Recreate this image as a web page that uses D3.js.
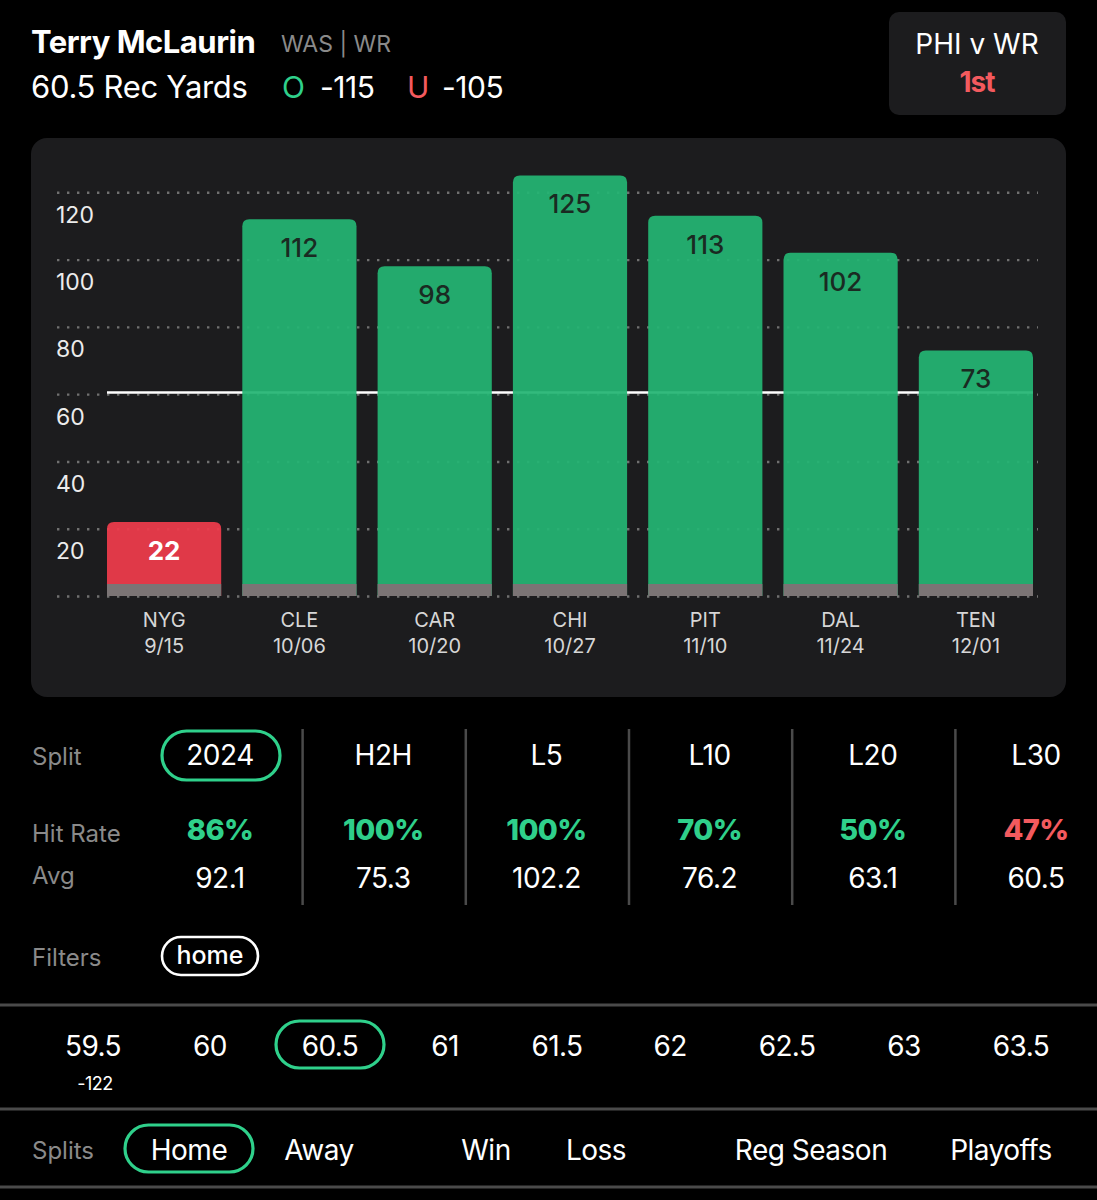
<!DOCTYPE html>
<html><head><meta charset="utf-8">
<script src="https://cdn.jsdelivr.net/npm/d3@7"></script>
<style>
html,body{margin:0;padding:0;background:#000;}
svg{display:block;font-family:Inter,"Noto Sans",sans-serif;}
</style></head>
<body><svg id="c" width="1097" height="1200"></svg>
<script>
// ---- data ----
const opponents = ["NYG","CLE","CAR","CHI","PIT","DAL","TEN"];
const dates = ["9/15","10/06","10/20","10/27","11/10","11/24","12/01"];
const recYards = [22,112,98,125,113,102,73];
const propLine = 60.5;
const yTicks = [0,20,40,60,80,100,120];
const splitNames = ["2024","H2H","L5","L10","L20","L30"];
const hitRates = [86,100,100,70,50,47];
const avgs = ["92.1","75.3","102.2","76.2","63.1","60.5"];
const altLines = ["59.5","60","60.5","61","61.5","62","62.5","63","63.5"];
const altOdds = ["-122","","","","","","","",""];
const splitButtons = ["Home","Away","Win","Loss","Reg Season","Playoffs"];

const GREEN="#23b573", GREEN_T="#2fd08b", RED="#ef3b4b", RED_T="#f35a5e";
const svg=d3.select("#c");
svg.append("rect").attr("width",1097).attr("height",1200).attr("fill","#000");

// ---- header ----
svg.append("text").attr("x",31).attr("y",53).attr("fill","#fff").attr("font-size",31).attr("font-weight",700).attr("letter-spacing",-0.5).text("Terry McLaurin");
svg.append("text").attr("x",281).attr("y",52).attr("fill","#8a8a8a").attr("font-size",23).text("WAS | WR");
svg.append("text").attr("x",31).attr("y",98).attr("fill","#fff").attr("font-size",31).attr("letter-spacing",-0.3).text("60.5 Rec Yards");
svg.append("text").attr("x",282).attr("y",98).attr("fill",GREEN_T).attr("font-size",30).text("O");
svg.append("text").attr("x",320).attr("y",98).attr("fill","#fff").attr("font-size",30).attr("letter-spacing",-0.5).text("-115");
svg.append("text").attr("x",407).attr("y",98).attr("fill",RED_T).attr("font-size",30).text("U");
svg.append("text").attr("x",442).attr("y",98).attr("fill","#fff").attr("font-size",30).attr("letter-spacing",-0.5).text("-105");

svg.append("rect").attr("x",889).attr("y",12).attr("width",177).attr("height",103).attr("rx",10).attr("fill","#1c1c1e");
svg.append("text").attr("x",977).attr("y",54).attr("text-anchor","middle").attr("fill","#fff").attr("font-size",28).text("PHI v WR");
svg.append("text").attr("x",977).attr("y",92).attr("text-anchor","middle").attr("fill",RED_T).attr("font-size",28).attr("font-weight",700).attr("letter-spacing",-1).text("1st");

// ---- chart panel ----
svg.append("rect").attr("x",31).attr("y",138).attr("width",1035).attr("height",559).attr("rx",16).attr("fill","#1c1c1e");

const x=d3.scaleBand().domain(opponents).range([107,1033]).paddingInner(0.156).paddingOuter(0);
const y=d3.scaleLinear().domain([0,120]).range([596,192.3]);

const yAxis=svg.append("g").attr("transform","translate(57,0)")
  .call(d3.axisRight(y).tickValues(yTicks).tickSize(981).tickFormat(d=>d===0?"":d));
yAxis.select(".domain").remove();
yAxis.selectAll("line").attr("stroke","#707070").attr("stroke-width",2.4).attr("stroke-dasharray","2.4,7.6");
yAxis.selectAll("text").attr("x",-1).attr("dy",0).attr("y",22).attr("text-anchor","start")
  .attr("dominant-baseline","central").attr("fill","#ececec").attr("font-size",23).attr("font-family","Inter,sans-serif");

// prop line
svg.append("line").attr("x1",x(opponents[0])).attr("x2",x(opponents[6])+x.bandwidth())
  .attr("y1",y(propLine)).attr("y2",y(propLine)).attr("stroke","#fff").attr("stroke-width",2.5);

// bars
const r=7;
function topRounded(x0,y0,w,h){
  return `M${x0},${y0+h}V${y0+r}Q${x0},${y0} ${x0+r},${y0}H${x0+w-r}Q${x0+w},${y0} ${x0+w},${y0+r}V${y0+h}Z`;
}
const bars=svg.append("g").selectAll("g").data(recYards).join("g");
bars.append("path")
  .attr("d",(d,i)=>topRounded(x(opponents[i]),y(d),x.bandwidth(),y(0)-y(d)))
  .attr("fill",d=>d>propLine?GREEN:RED).attr("fill-opacity",0.93);
bars.append("rect").attr("x",(d,i)=>x(opponents[i])).attr("width",x.bandwidth())
  .attr("y",y(0)-12).attr("height",12).attr("fill","#7b7475");
bars.append("text").attr("x",(d,i)=>x(opponents[i])+x.bandwidth()/2).attr("y",d=>y(d)+38)
  .attr("text-anchor","middle").attr("font-size",26)
  .attr("font-weight",d=>d>propLine?500:700)
  .attr("fill",d=>d>propLine?"#1a2a22":"#fff").text(d=>d);

// x axis
const xAxis=svg.append("g").attr("transform",`translate(0,${y(0)})`)
  .call(d3.axisBottom(x).tickSize(0).tickFormat(""));
xAxis.select(".domain").remove();
xAxis.selectAll(".tick text").each(function(d,i){
  const t=d3.select(this).attr("y",0).attr("dy",0).attr("fill","#d6d6d6").attr("font-size",20).attr("font-family","Inter,sans-serif");
  t.append("tspan").attr("x",0).attr("y",31).text(d);
  t.append("tspan").attr("x",0).attr("y",57).text(dates[i]);
});

// ---- split table ----
const colX=d3.scalePoint().domain(splitNames).range([220,1036]);
svg.append("text").attr("x",32).attr("y",765).attr("fill","#8a8a8a").attr("font-size",24).text("Split");
svg.append("text").attr("x",32).attr("y",842).attr("fill","#8a8a8a").attr("font-size",24).text("Hit Rate");
svg.append("text").attr("x",32).attr("y",884).attr("fill","#8a8a8a").attr("font-size",24).text("Avg");
svg.append("rect").attr("x",162).attr("y",731).attr("width",118).attr("height",49).attr("rx",24.5)
  .attr("fill","none").attr("stroke",GREEN_T).attr("stroke-width",3.2);
splitNames.forEach((s,i)=>{
  const cx=colX(s);
  svg.append("text").attr("x",cx).attr("y",765).attr("text-anchor","middle").attr("fill","#fff").attr("font-size",28).attr("letter-spacing",-0.5).text(s);
  svg.append("text").attr("x",cx).attr("y",840).attr("text-anchor","middle").attr("fill",hitRates[i]>=50?GREEN_T:RED_T)
    .attr("font-size",29).attr("font-weight",800).attr("letter-spacing",-0.6).text(hitRates[i]+"%");
  svg.append("text").attr("x",cx).attr("y",888).attr("text-anchor","middle").attr("fill","#fff").attr("font-size",28).attr("letter-spacing",-0.5).text(avgs[i]);
  if(i>0){
    const sx=(colX(splitNames[i-1])+cx)/2+1;
    svg.append("line").attr("x1",sx).attr("x2",sx).attr("y1",729).attr("y2",905).attr("stroke","#4a4a4a").attr("stroke-width",2.5);
  }
});

// filters
svg.append("text").attr("x",32).attr("y",966).attr("fill","#8a8a8a").attr("font-size",24).text("Filters");
svg.append("rect").attr("x",162).attr("y",937).attr("width",96).attr("height",38).attr("rx",19)
  .attr("fill","none").attr("stroke","#fff").attr("stroke-width",2.6);
svg.append("text").attr("x",210).attr("y",964).attr("text-anchor","middle").attr("fill","#fff").attr("font-size",25).attr("font-weight",500).text("home");

// separators
[1005,1109,1187].forEach(yy=>svg.append("line").attr("x1",0).attr("x2",1097).attr("y1",yy).attr("y2",yy).attr("stroke","#4a4a4a").attr("stroke-width",3));

// alt lines
const altX=[93,210,330,445,557,670,787,904,1021];
svg.append("rect").attr("x",276).attr("y",1021).attr("width",108).attr("height",47).attr("rx",23.5)
  .attr("fill","none").attr("stroke",GREEN_T).attr("stroke-width",3.2);
altLines.forEach((v,i)=>{
  svg.append("text").attr("x",altX[i]).attr("y",1056).attr("text-anchor","middle").attr("fill","#fff").attr("font-size",28).attr("letter-spacing",-0.6).text(v);
  if(altOdds[i]) svg.append("text").attr("x",altX[i]+2).attr("y",1090).attr("text-anchor","middle").attr("fill","#fff").attr("font-size",18).attr("letter-spacing",-0.5).text(altOdds[i]);
});

// splits buttons
svg.append("text").attr("x",32).attr("y",1159).attr("fill","#8a8a8a").attr("font-size",24).text("Splits");
const btnX=[189,319,486,596,811,1001];
svg.append("rect").attr("x",125).attr("y",1125).attr("width",128).attr("height",47).attr("rx",23.5)
  .attr("fill","none").attr("stroke",GREEN_T).attr("stroke-width",3.2);
splitButtons.forEach((b,i)=>{
  svg.append("text").attr("x",btnX[i]).attr("y",1160).attr("text-anchor","middle").attr("fill","#fff").attr("font-size",28).attr("letter-spacing",-0.5).text(b);
});
</script></body></html>
